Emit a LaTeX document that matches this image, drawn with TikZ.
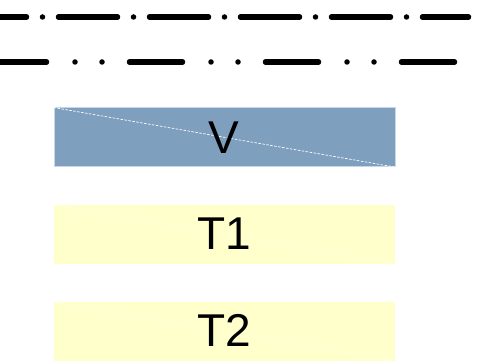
\documentclass[tikz,border=0pt]{standalone}
\usepackage{fontspec}
\setmainfont{Liberation Sans}
\definecolor{vblue}{RGB}{127,159,191}
\definecolor{vedge}{RGB}{200,215,232}
\definecolor{tyellow}{RGB}{255,255,204}
\tikzset{
  patline/.style={line width=5.5pt, line cap=round},
  bar/.style={rectangle, inner sep=0pt, minimum width=341pt, minimum height=59pt, anchor=north west},
  vbar/.style={bar, fill=vblue, draw=vedge, line width=0.6pt},
  tbar/.style={bar, fill=tyellow},
  diag/.style={draw=white, line width=0.7pt, dash pattern=on 2.5pt off 1.5pt},
  faintdiag/.style={draw=white, line width=0.6pt, dash pattern=on 3pt off 2pt, opacity=0.6},
  lbl/.style={font=\fontsize{46}{50}\selectfont, inner sep=0pt}
}
\begin{document}
\begin{tikzpicture}[x=1pt,y=-1pt]
\useasboundingbox (0,0) rectangle (491,361);
\clip (0,0) rectangle (491,361);
% pattern lines
\coordinate (l1a) at (-32.5,17);
\coordinate (l1b) at (468.5,17);
\coordinate (l2a) at (-6.5,62);
\coordinate (l2b) at (468.5,62);
\draw[patline, dash pattern=on 59pt off 16pt on 0pt off 16pt] (l1a) -- (l1b);
\draw[patline, dash pattern=on 53pt off 28.5pt on 0pt off 27pt on 0pt off 27.5pt] (l2a) -- (l2b);
% bars
\node[vbar] (v) at (53.5,107.5) {};
\draw[diag] (v.north west) -- (v.south east);
\node[lbl] (vt) at (v.center) {V};
\node[tbar] (t1) at (53.5,204.5) {};
\draw[faintdiag] (t1.north west) -- (t1.south east);
\node[lbl] (t1t) at ([yshift=1pt]t1.center) {T1};
\node[tbar] (t2) at (53.5,302) {};
\draw[faintdiag] (t2.north west) -- (t2.south east);
\node[lbl] (t2t) at ([yshift=1pt]t2.center) {T2};
\end{tikzpicture}
\end{document}
